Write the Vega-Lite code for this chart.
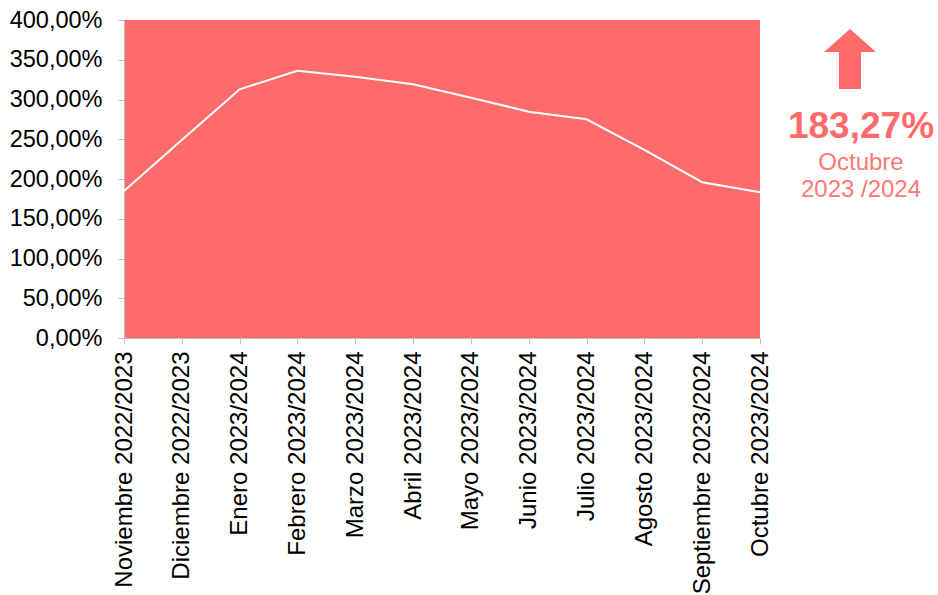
{
  "$schema": "https://vega.github.io/schema/vega-lite/v6.json",
  "autosize": {"type": "none"},
  "width": 636,
  "height": 318,
  "padding": {"left": 124, "top": 20, "right": 178, "bottom": 257},
  "background": "white",
  "view": {"fill": "#FF6B6B", "stroke": null},
  "config": {"font": "Liberation Sans"},
  "data": {"values": [
    {"mes": "Noviembre 2022/2023", "valor": 185},
    {"mes": "Diciembre 2022/2023", "valor": 249},
    {"mes": "Enero 2023/2024", "valor": 312.8},
    {"mes": "Febrero 2023/2024", "valor": 336.2},
    {"mes": "Marzo 2023/2024", "valor": 328.7},
    {"mes": "Abril 2023/2024", "valor": 319.1},
    {"mes": "Mayo 2023/2024", "valor": 302.3},
    {"mes": "Junio 2023/2024", "valor": 284.7},
    {"mes": "Julio 2023/2024", "valor": 275.1},
    {"mes": "Agosto 2023/2024", "valor": 236.5},
    {"mes": "Septiembre 2023/2024", "valor": 196},
    {"mes": "Octubre 2023/2024", "valor": 183.27}
  ]},
  "encoding": {
    "x": {"field": "mes", "type": "ordinal", "sort": null,
      "scale": {"type": "point", "padding": 0},
      "axis": {"title": null, "labelAngle": -90, "labelFontSize": 24, "labelColor": "#000000", "labelLimit": 400,
        "labelPadding": 7, "domainColor": "#BFBFBF", "tickColor": "#BFBFBF", "tickSize": 6, "grid": false}},
    "y": {"field": "valor", "type": "quantitative",
      "scale": {"domain": [0, 400], "nice": false},
      "axis": {"title": null, "values": [0, 50, 100, 150, 200, 250, 300, 350, 400],
        "labelExpr": "replace(format(datum.value, '.2f'), '.', ',') + '%'",
        "labelFontSize": 23.5, "labelColor": "#000000", "labelPadding": 16, "labelLimit": 300,
        "domainColor": "#BFBFBF", "tickColor": "#BFBFBF", "tickSize": 6, "grid": false}}
  },
  "layer": [
    {"mark": {"type": "line", "color": "white", "strokeWidth": 2}},
    {"transform": [
       {"filter": "datum.mes === 'Octubre 2023/2024'"},
       {"calculate": "replace(format(datum.valor, '.2f'), '.', ',') + '%'", "as": "etiqueta"}
     ],
     "layer": [
      {"mark": {"type": "point", "filled": true, "color": "#FF6B6B", "opacity": 1, "size": 100, "strokeWidth": 0,
        "shape": "M18,-32.66 L23.2,-28.06 L20.2,-28.06 L20.2,-20.66 L15.8,-20.66 L15.8,-28.06 L12.8,-28.06 Z"}},
      {"mark": {"type": "text", "fontWeight": "bold", "fontSize": 37, "color": "#FF6B6B", "dx": 101, "dy": -65, "align": "center", "baseline": "middle"},
       "encoding": {"text": {"field": "etiqueta", "type": "nominal"}}},
      {"mark": {"type": "text", "fontSize": 24, "color": "#FF7777", "dx": 101, "dy": -29, "align": "center", "baseline": "middle", "text": "Octubre"}},
      {"mark": {"type": "text", "fontSize": 24, "color": "#FF7777", "dx": 101, "dy": -2, "align": "center", "baseline": "middle", "text": "2023 /2024"}}
    ]}
  ]
}
